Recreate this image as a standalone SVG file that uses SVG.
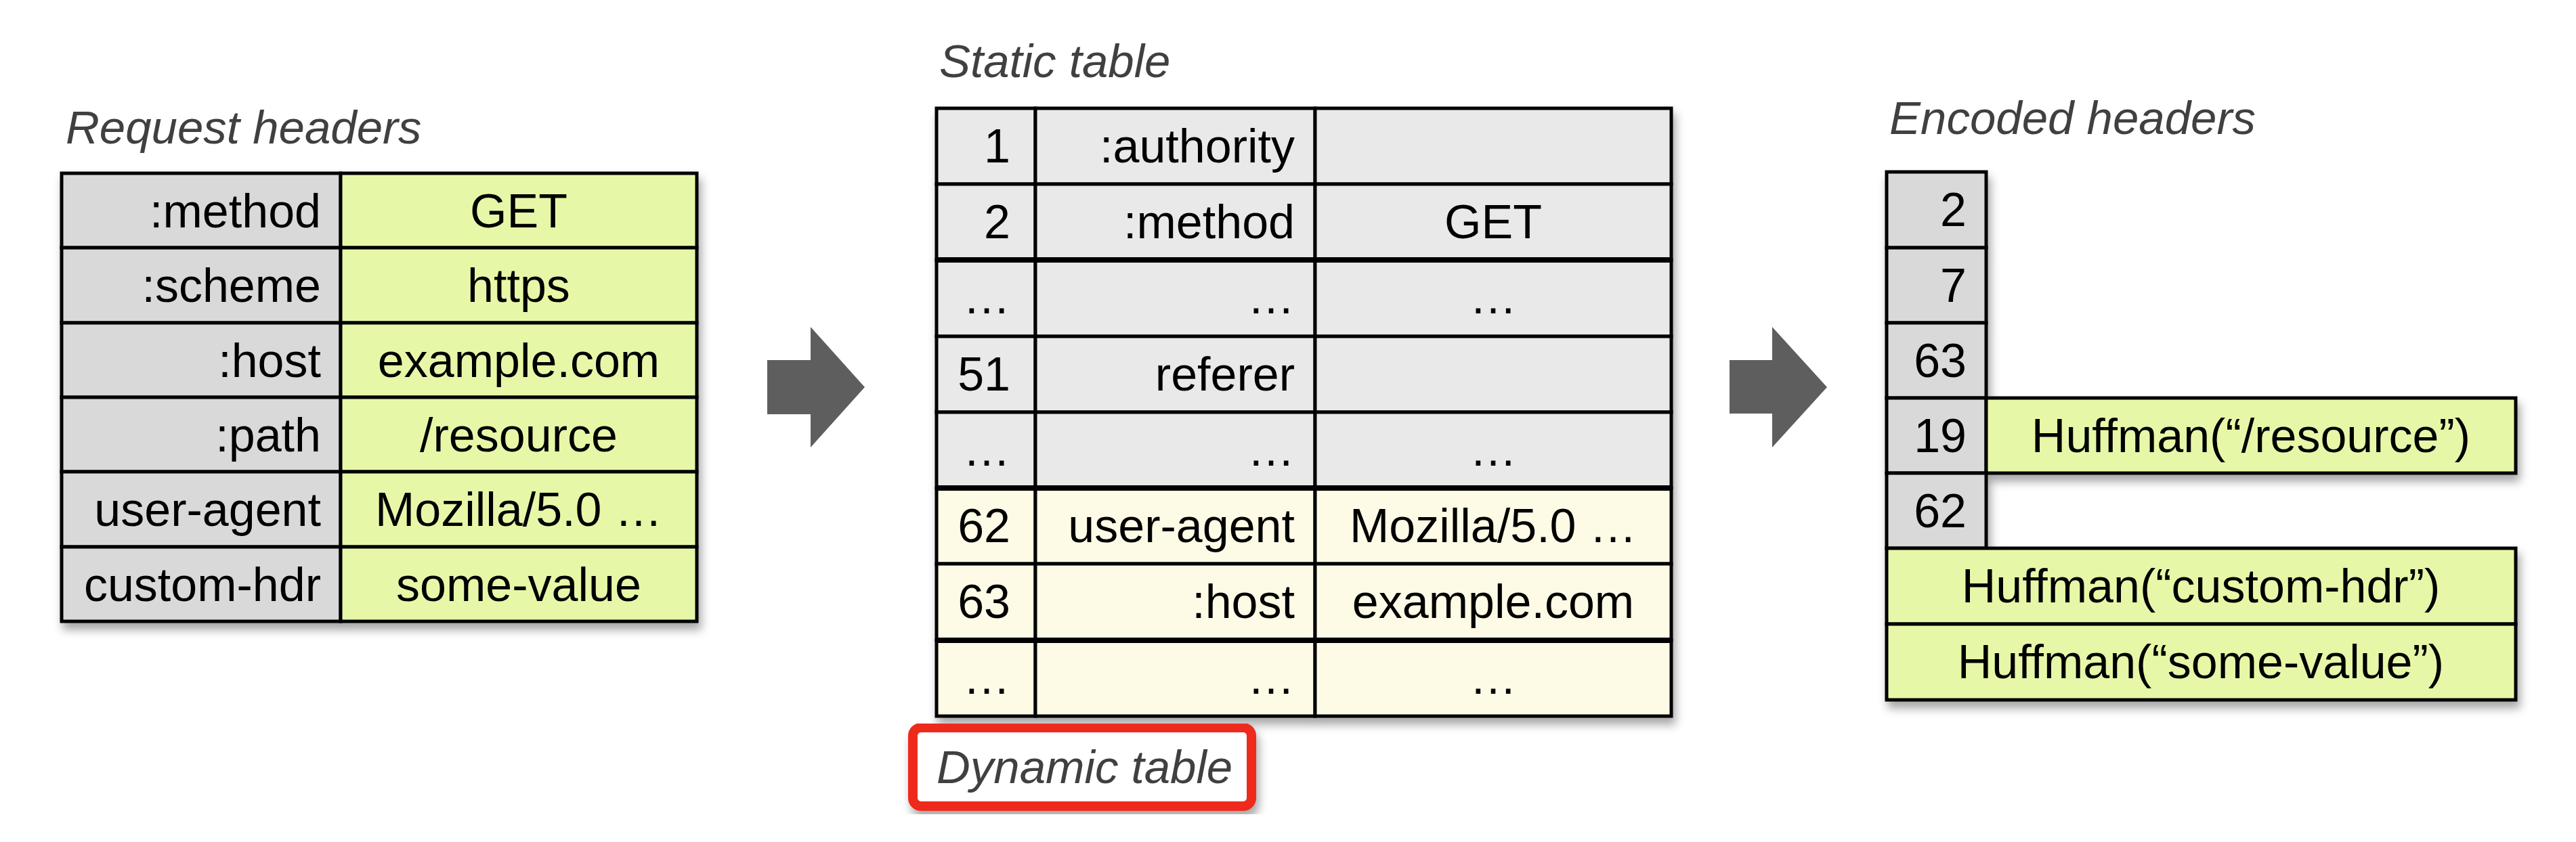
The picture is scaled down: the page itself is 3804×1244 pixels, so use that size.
<svg xmlns="http://www.w3.org/2000/svg" width="3804" height="1244" viewBox="0 0 3804 1244">
<defs>
<filter id="sh" x="-5%" y="-5%" width="110%" height="115%">
<feDropShadow dx="4" dy="10" stdDeviation="7" flood-color="#000" flood-opacity="0.35"/>
</filter>
<style>
.t{font-family:"Liberation Sans",Arial,Helvetica,sans-serif;font-size:70px;fill:#000}
.e{text-anchor:end}
.m{text-anchor:middle}
.title{font-family:"Liberation Sans",Arial,Helvetica,sans-serif;font-size:69px;font-style:italic;fill:#404040}
.c{stroke:#000;stroke-width:5}
.g1{fill:#d9d9d9}
.g2{fill:#e9e9e9}
.gr{fill:#e6f8a8}
.cr{fill:#fdfbe6}
.arr{fill:#5e5e5e}
</style>
</defs>
<rect width="3804" height="1244" fill="#fff"/>

<g id="request-headers">
<text class="title" x="97" y="212">Request headers</text>
<g filter="url(#sh)">
<rect class="c g1" x="91" y="256" width="412" height="110"/><rect class="c gr" x="503" y="256" width="526" height="110"/>
<rect class="c g1" x="91" y="366" width="412" height="111"/><rect class="c gr" x="503" y="366" width="526" height="111"/>
<rect class="c g1" x="91" y="477" width="412" height="110"/><rect class="c gr" x="503" y="477" width="526" height="110"/>
<rect class="c g1" x="91" y="587" width="412" height="110"/><rect class="c gr" x="503" y="587" width="526" height="110"/>
<rect class="c g1" x="91" y="697" width="412" height="111"/><rect class="c gr" x="503" y="697" width="526" height="111"/>
<rect class="c g1" x="91" y="808" width="412" height="110"/><rect class="c gr" x="503" y="808" width="526" height="110"/>
</g>
<text class="t e" x="474" y="336">:method</text><text class="t m" x="766" y="336">GET</text>
<text class="t e" x="474" y="446">:scheme</text><text class="t m" x="766" y="446">https</text>
<text class="t e" x="474" y="557">:host</text><text class="t m" x="766" y="557">example.com</text>
<text class="t e" x="474" y="667">:path</text><text class="t m" x="766" y="667">/resource</text>
<text class="t e" x="474" y="777">user-agent</text><text class="t m" x="766" y="777">Mozilla/5.0 …</text>
<text class="t e" x="474" y="888">custom-hdr</text><text class="t m" x="766" y="888">some-value</text>
</g>

<g id="static-table">
<text class="title" x="1387" y="114">Static table</text>
<g filter="url(#sh)">
<g class="c g2">
<rect x="1383" y="160" width="146" height="112"/><rect x="1529" y="160" width="413" height="112"/><rect x="1942" y="160" width="526" height="112"/>
<rect x="1383" y="272" width="146" height="112"/><rect x="1529" y="272" width="413" height="112"/><rect x="1942" y="272" width="526" height="112"/>
<rect x="1383" y="384" width="146" height="113"/><rect x="1529" y="384" width="413" height="113"/><rect x="1942" y="384" width="526" height="113"/>
<rect x="1383" y="497" width="146" height="112"/><rect x="1529" y="497" width="413" height="112"/><rect x="1942" y="497" width="526" height="112"/>
<rect x="1383" y="609" width="146" height="112"/><rect x="1529" y="609" width="413" height="112"/><rect x="1942" y="609" width="526" height="112"/>
</g>
<g class="c cr">
<rect x="1383" y="721" width="146" height="112"/><rect x="1529" y="721" width="413" height="112"/><rect x="1942" y="721" width="526" height="112"/>
<rect x="1383" y="833" width="146" height="113"/><rect x="1529" y="833" width="413" height="113"/><rect x="1942" y="833" width="526" height="113"/>
<rect x="1383" y="946" width="146" height="112"/><rect x="1529" y="946" width="413" height="112"/><rect x="1942" y="946" width="526" height="112"/>
</g>
<path d="M1383 384H2468M1383 721H2468M1383 946H2468" stroke="#000" stroke-width="8" fill="none"/>
</g>
<text class="t e" x="1492" y="240">1</text><text class="t e" x="1912" y="240">:authority</text>
<text class="t e" x="1492" y="352">2</text><text class="t e" x="1912" y="352">:method</text><text class="t m" x="2205" y="352">GET</text>
<text class="t e" x="1492" y="463">…</text><text class="t e" x="1912" y="463">…</text><text class="t m" x="2205" y="463">…</text>
<text class="t e" x="1492" y="577">51</text><text class="t e" x="1912" y="577">referer</text>
<text class="t e" x="1492" y="688">…</text><text class="t e" x="1912" y="688">…</text><text class="t m" x="2205" y="688">…</text>
<text class="t e" x="1492" y="801">62</text><text class="t e" x="1912" y="801">user-agent</text><text class="t m" x="2205" y="801">Mozilla/5.0 …</text>
<text class="t e" x="1492" y="913">63</text><text class="t e" x="1912" y="913">:host</text><text class="t m" x="2205" y="913">example.com</text>
<text class="t e" x="1492" y="1025">…</text><text class="t e" x="1912" y="1025">…</text><text class="t m" x="2205" y="1025">…</text>
</g>

<g id="dynamic-table-label">
<rect x="1348" y="1075" width="500" height="116" rx="12" fill="#fff" stroke="#ee2a1f" stroke-width="14" filter="url(#sh)"/>
<text class="title" x="1383" y="1157">Dynamic table</text>
</g>

<g id="encoded-headers">
<text class="title" x="2790" y="198">Encoded headers</text>
<g filter="url(#sh)">
<rect class="c g1" x="2786" y="254" width="147" height="112"/>
<rect class="c g1" x="2786" y="366" width="147" height="111"/>
<rect class="c g1" x="2786" y="477" width="147" height="111"/>
<rect class="c g1" x="2786" y="588" width="147" height="111"/>
<rect class="c gr" x="2933" y="588" width="782" height="111"/>
<rect class="c g1" x="2786" y="699" width="147" height="111"/>
<rect class="c gr" x="2786" y="810" width="929" height="112"/>
<rect class="c gr" x="2786" y="922" width="929" height="112"/>
</g>
<text class="t e" x="2904" y="334">2</text>
<text class="t e" x="2904" y="446">7</text>
<text class="t e" x="2904" y="557">63</text>
<text class="t e" x="2904" y="668">19</text>
<text class="t m" x="3324" y="668">Huffman(“/resource”)</text>
<text class="t e" x="2904" y="779">62</text>
<text class="t m" x="3250" y="890">Huffman(“custom-hdr”)</text>
<text class="t m" x="3250" y="1002">Huffman(“some-value”)</text>
</g>

<g id="connectors">
<polygon class="arr" points="1133,532 1197,532 1197,483 1277,572 1197,661 1197,612 1133,612"/>
<polygon class="arr" points="2554,532 2617,532 2617,483 2698,572 2617,661 2617,611 2554,611"/>
</g>
</svg>
